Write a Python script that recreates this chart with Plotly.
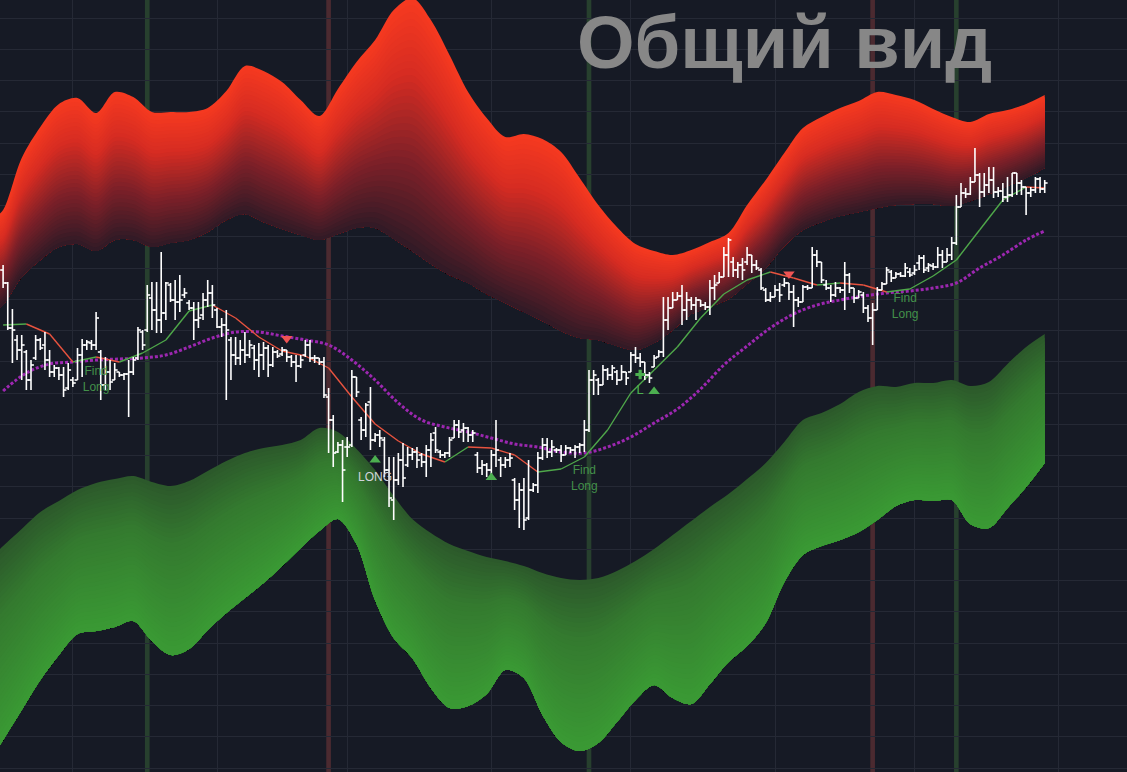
import numpy as np
import pandas as pd
import plotly.graph_objects as go

START = pd.Timestamp("2022-12-17")

bar_open = [
    73.0, 71.7, 67.2, 66.0, 65.0, 64.8, 62.0, 64.2, 66.0, 65.5,
    64.0, 62.8, 63.2, 62.5, 61.2, 62.0, 62.0, 64.5, 65.5, 65.7,
    65.5, 64.8, 61.5, 62.8, 62.0, 62.8, 62.5, 62.6, 62.8, 64.2,
    66.8, 67.0, 70.2, 69.0, 68.0, 68.7, 71.5, 70.0, 69.8, 70.5,
    69.7, 69.2, 68.0, 68.5, 70.0, 70.7, 69.0, 67.3, 67.5, 66.0,
    64.5, 64.2, 65.0, 64.5, 65.2, 64.0, 64.5, 65.2, 63.5, 64.8,
    64.6, 65.0, 64.3, 63.8, 63.4, 64.5, 65.5, 64.2, 64.2, 63.8,
    60.3, 58.0, 54.8, 55.5, 55.3, 55.5, 62.3, 58.0, 57.0, 59.8,
    56.0, 56.5, 56.0, 53.0, 50.0, 52.0, 54.0, 53.5, 54.5, 54.8,
    54.5, 53.8, 55.0, 56.7, 54.8, 54.5, 54.7, 56.2, 57.5, 57.0,
    57.2, 56.5, 54.5, 53.2, 53.5, 53.0, 54.5, 54.0, 53.5, 54.0,
    52.0, 50.0, 51.0, 48.2, 51.0, 51.5, 54.2, 55.5, 54.8, 55.0,
    55.0, 54.5, 55.2, 55.0, 55.3, 55.5, 57.0, 62.0, 62.0, 61.5,
    63.0, 62.5, 62.8, 62.0, 62.8, 62.8, 64.5, 64.2, 63.8, 62.5,
    63.3, 64.3, 64.8, 68.0, 69.2, 70.0, 70.4, 69.0, 70.0, 69.5,
    70.0, 69.5, 69.3, 71.2, 71.7, 72.3, 74.5, 73.8, 73.0, 73.5,
    73.8, 74.5, 73.5, 73.0, 71.0, 70.0, 70.3, 71.0, 71.5, 71.7,
    70.8, 70.0, 69.8, 71.3, 71.2, 74.5, 73.8, 71.5, 71.2, 70.5,
    71.2, 71.0, 72.5, 71.2, 70.2, 70.5, 69.2, 68.2, 69.0, 71.0,
    71.6, 72.8, 72.2, 72.6, 72.4, 72.8, 72.7, 73.7, 74.2, 73.2,
    73.4, 73.3, 74.5, 73.8, 74.5, 75.7, 79.3, 80.7, 80.6, 81.8,
    82.5, 80.8, 81.5, 82.0, 80.8, 80.9, 80.3, 80.5, 82.7, 81.7,
    81.3, 80.7, 81.0, 82.1, 81.1,
]
bar_high = [
    73.5, 71.8, 69.1, 66.5, 66.5, 65.0, 64.0, 66.5, 66.2, 66.8,
    65.0, 63.5, 63.3, 63.3, 63.7, 62.3, 65.2, 66.1, 66.0, 66.0,
    68.8, 65.0, 64.3, 64.0, 63.7, 62.8, 62.7, 64.0, 64.3, 67.3,
    67.0, 71.5, 71.8, 71.8, 74.8, 71.8, 71.7, 72.0, 72.5, 71.2,
    70.0, 69.8, 69.8, 70.7, 72.0, 71.5, 69.2, 68.2, 69.0, 66.3,
    66.3, 66.0, 66.8, 66.0, 65.5, 65.7, 65.8, 65.5, 65.3, 65.0,
    65.3, 65.0, 64.5, 64.5, 64.5, 66.0, 66.0, 64.5, 64.2, 64.3,
    61.2, 58.5, 55.8, 56.0, 56.3, 63.0, 62.3, 58.3, 59.7, 61.3,
    56.7, 57.0, 56.3, 54.3, 54.3, 54.7, 55.7, 55.3, 55.2, 55.3,
    54.7, 55.5, 56.7, 57.3, 55.0, 54.8, 56.3, 58.0, 58.0, 57.7,
    57.3, 57.0, 54.8, 54.0, 53.7, 55.0, 58.0, 54.3, 54.3, 54.7,
    52.2, 51.7, 52.2, 54.0, 51.7, 54.8, 56.2, 56.2, 56.0, 55.2,
    55.5, 55.5, 55.3, 55.5, 55.7, 58.0, 63.0, 63.0, 62.2, 63.5,
    63.2, 63.5, 63.0, 63.5, 62.8, 64.8, 65.3, 64.7, 63.8, 62.8,
    64.5, 65.0, 70.3, 70.3, 70.8, 70.8, 71.5, 70.8, 70.3, 70.3,
    70.0, 69.8, 72.0, 72.5, 72.8, 75.3, 76.2, 74.3, 73.8, 74.2,
    75.3, 74.5, 74.0, 73.2, 71.2, 70.8, 71.5, 71.7, 72.2, 71.7,
    71.5, 70.3, 71.5, 71.5, 75.3, 75.0, 73.8, 72.0, 71.5, 71.8,
    71.3, 73.8, 72.7, 71.2, 71.0, 70.8, 69.5, 69.7, 71.3, 71.8,
    73.3, 73.0, 72.8, 72.8, 73.7, 73.2, 73.5, 74.5, 74.5, 73.7,
    73.7, 75.3, 75.0, 75.2, 76.3, 80.5, 81.7, 81.2, 82.3, 85.2,
    82.7, 82.7, 83.3, 83.3, 81.3, 81.7, 82.3, 82.7, 82.7, 82.0,
    81.3, 81.3, 82.3, 82.3, 82.0,
]
bar_low = [
    71.2, 67.0, 63.7, 64.0, 62.0, 61.0, 61.0, 64.0, 65.0, 63.0,
    62.3, 62.3, 62.0, 60.3, 61.0, 61.3, 62.0, 62.3, 65.0, 65.0,
    65.0, 60.0, 61.0, 61.0, 62.0, 62.3, 62.0, 58.3, 62.5, 64.0,
    65.0, 66.8, 67.0, 66.7, 66.7, 68.0, 69.8, 68.0, 68.8, 70.2,
    69.0, 66.0, 67.2, 68.0, 69.3, 68.2, 67.2, 66.3, 60.0, 62.0,
    63.5, 63.5, 63.7, 64.2, 63.0, 62.3, 63.0, 62.3, 63.3, 64.2,
    64.4, 63.8, 63.3, 61.8, 63.2, 64.3, 63.8, 63.7, 63.5, 60.2,
    54.7, 53.3, 54.7, 49.8, 54.3, 55.3, 60.3, 56.0, 56.3, 55.0,
    55.8, 55.3, 52.3, 49.3, 48.0, 51.5, 51.3, 53.3, 54.0, 53.2,
    53.3, 52.3, 53.3, 54.7, 54.2, 54.2, 54.3, 56.2, 56.2, 55.8,
    55.8, 55.8, 52.7, 52.5, 52.3, 52.3, 53.3, 52.3, 53.2, 53.3,
    49.0, 47.2, 47.0, 48.0, 50.8, 50.7, 54.0, 54.2, 54.3, 54.7,
    53.8, 54.5, 54.7, 54.2, 54.7, 54.8, 56.8, 60.5, 60.5, 61.5,
    62.0, 62.0, 61.5, 62.0, 61.5, 62.8, 63.7, 63.3, 62.0, 61.7,
    63.3, 64.3, 64.3, 67.0, 69.2, 70.0, 67.5, 68.0, 69.0, 68.0,
    69.3, 69.0, 68.5, 70.0, 71.7, 72.3, 72.3, 72.3, 72.2, 72.0,
    73.5, 72.7, 73.0, 71.0, 69.8, 69.8, 70.3, 69.8, 71.3, 70.0,
    67.3, 69.3, 69.8, 71.0, 71.2, 73.3, 71.7, 71.0, 69.8, 70.3,
    70.7, 69.0, 70.7, 69.7, 70.2, 68.7, 67.8, 65.5, 69.0, 71.0,
    71.6, 71.8, 72.2, 72.3, 72.3, 72.3, 72.5, 73.0, 72.7, 72.8,
    73.0, 73.2, 73.2, 73.8, 74.0, 75.5, 79.3, 80.2, 80.5, 81.8,
    79.3, 80.3, 80.7, 80.2, 80.3, 79.8, 79.8, 80.3, 80.5, 80.5,
    78.5, 80.3, 80.7, 80.7, 80.7,
]
bar_close = [
    71.7, 67.2, 67.0, 65.0, 65.5, 62.0, 63.5, 66.0, 65.2, 64.0,
    62.8, 63.2, 62.5, 61.0, 63.0, 61.7, 64.5, 65.5, 65.8, 65.5,
    68.2, 61.5, 62.8, 61.8, 63.0, 62.5, 62.6, 62.8, 64.0, 67.0,
    65.5, 70.5, 69.0, 68.0, 68.7, 71.7, 70.0, 69.8, 70.0, 70.7,
    69.2, 68.0, 68.2, 70.0, 70.7, 69.5, 67.3, 67.5, 67.0, 64.5,
    64.2, 65.0, 64.5, 65.5, 64.0, 64.5, 65.2, 63.5, 64.8, 64.4,
    65.0, 64.3, 63.8, 63.4, 64.0, 65.5, 64.2, 64.2, 63.8, 60.5,
    58.0, 54.7, 55.5, 53.0, 55.3, 62.3, 60.8, 57.0, 59.5, 56.0,
    56.5, 56.2, 53.0, 50.2, 52.0, 54.0, 52.2, 54.5, 54.8, 54.0,
    53.8, 55.0, 56.0, 55.0, 54.5, 54.7, 56.0, 57.5, 56.8, 57.2,
    56.5, 56.7, 53.2, 53.5, 53.0, 54.5, 55.0, 53.5, 54.0, 54.2,
    50.0, 51.0, 48.0, 51.0, 51.5, 54.2, 55.5, 54.8, 55.3, 55.0,
    54.5, 55.2, 55.0, 55.3, 55.5, 57.0, 62.0, 62.5, 61.5, 63.0,
    62.5, 63.2, 62.0, 62.8, 62.2, 64.5, 64.2, 63.8, 62.5, 62.2,
    64.2, 64.8, 68.0, 69.2, 70.0, 70.4, 69.0, 70.0, 69.5, 70.0,
    69.5, 69.3, 71.2, 71.5, 72.3, 74.5, 76.0, 73.0, 73.5, 73.0,
    74.5, 73.5, 73.2, 71.2, 70.0, 70.3, 71.0, 70.5, 71.7, 70.8,
    70.0, 69.8, 71.3, 71.2, 74.5, 73.8, 72.0, 71.2, 70.5, 71.2,
    71.0, 72.5, 71.2, 70.2, 70.8, 69.2, 68.2, 69.0, 71.0, 71.6,
    73.0, 72.2, 72.6, 72.4, 73.2, 72.5, 73.0, 74.2, 73.0, 73.5,
    73.3, 74.5, 73.8, 74.5, 75.7, 79.3, 80.7, 80.6, 81.8, 82.5,
    80.8, 81.5, 82.0, 80.8, 80.9, 80.3, 80.5, 82.7, 81.7, 81.3,
    80.7, 81.0, 82.1, 81.1, 81.7,
]

# indicator lines, read every 5 bars (last at bar 224)
ma_fast = [67.5, 67.6, 66.6, 63.8, 64.3, 63.8, 64.7, 66.0, 68.9, 69.5,
           68.2, 66.3, 64.9, 64.4, 63.2, 60.3, 57.6, 55.9, 54.6, 53.8,
           55.3, 55.2, 54.5, 52.8, 53.1, 54.3, 57.0, 60.7, 63.0, 65.3,
           68.2, 70.6, 72.0, 72.8, 72.2, 71.5, 71.7, 71.5, 70.8, 71.1,
           72.4, 74.0, 77.0, 80.0, 81.3, 81.2]
ma_slow = [60.9, 62.7, 63.6, 63.8, 64.0, 64.1, 64.2, 64.5, 65.3, 66.2,
           66.8, 66.8, 66.4, 66.0, 65.5, 64.0, 62.0, 59.7, 58.0, 57.3,
           56.8, 56.2, 55.6, 55.3, 54.8, 54.7, 55.3, 56.3, 57.7, 59.1,
           61.1, 63.5, 65.4, 67.2, 68.6, 69.5, 70.0, 70.4, 70.7, 70.9,
           71.2, 71.7, 73.2, 74.5, 76.0, 76.9]

# channel bands, read at bar -2 and every 4 bars from 0 to 224
upper_top = [78.2, 79.0, 84.2, 87.3, 89.6, 90.2, 88.7, 90.8, 90.3, 88.8,
             88.8, 88.8, 89.2, 90.9, 93.4, 92.9, 91.8, 90.0, 88.4, 91.1,
             93.8, 96.0, 99.0, 100.2, 98.0, 94.5, 90.8, 88.2, 86.3, 86.6,
             86.1, 84.8, 82.2, 79.5, 77.3, 75.6, 74.9, 74.5, 75.0, 75.8,
             76.7, 79.5, 82.0, 84.7, 87.2, 88.3, 89.2, 89.9, 90.8, 90.5,
             90.0, 89.1, 88.3, 87.8, 88.6, 89.0, 89.6, 90.5]
upper_bot = [68.8, 69.5, 72.3, 74.0, 75.3, 75.6, 74.9, 76.0, 76.0, 75.3,
             75.7, 76.0, 76.8, 78.0, 78.6, 77.8, 77.1, 76.5, 76.0, 76.6,
             77.2, 77.2, 76.1, 74.9, 73.6, 72.5, 71.7, 70.6, 69.7, 68.8,
             67.9, 66.9, 66.2, 66.0, 65.4, 65.0, 65.7, 67.0, 68.6, 69.3,
             70.1, 71.6, 73.2, 75.4, 77.0, 77.8, 78.4, 78.8, 79.2, 79.5,
             79.6, 79.6, 79.4, 79.9, 80.6, 81.4, 82.2, 83.2]
lower_top = [44.5, 45.4, 47.1, 48.8, 49.9, 51.0, 51.7, 52.1, 52.4, 51.8,
             51.4, 51.9, 52.9, 53.9, 54.7, 55.2, 55.5, 56.0, 57.2, 56.8,
             55.1, 53.0, 50.4, 48.1, 46.7, 45.6, 44.9, 44.3, 43.9, 43.4,
             42.7, 42.2, 42.0, 42.2, 42.9, 43.9, 45.1, 46.5, 47.9, 49.3,
             50.6, 52.1, 53.7, 55.8, 58.0, 58.7, 59.6, 60.8, 61.4, 61.3,
             61.7, 61.7, 62.0, 61.4, 61.8, 63.6, 65.3, 66.6]
lower_bot = [24.5, 26.0, 29.0, 32.0, 34.5, 36.6, 36.9, 37.3, 37.9, 35.9,
             34.5, 35.1, 37.0, 38.7, 40.2, 41.7, 43.4, 45.2, 46.9, 48.1,
             45.6, 40.0, 36.2, 34.2, 31.2, 29.2, 29.4, 30.6, 33.0, 32.2,
             28.5, 25.8, 24.9, 25.7, 27.8, 30.0, 31.5, 30.2, 29.6, 31.6,
             33.8, 35.4, 37.7, 41.8, 44.5, 45.4, 46.0, 46.8, 48.0, 49.4,
             50.0, 49.9, 50.0, 47.6, 47.2, 49.2, 51.3, 53.7]

signal_bars = [31, 70, 126, 187, 205]
signal_kinds = ["long", "short", "long", "short", "long"]

down_idx = [61, 169]
down_y = [66.15, 72.6]
up_idx = [80, 105, 140]
up_y = [54.0, 52.25, 60.85]
find_idx = [20, 125, 194]
find_y = [62.0, 52.1, 69.3]
entry_idx = [80]
entry_y = [52.2]
l_idx = [137]
l_y = [60.9]
plus_y = [62.55]

n = len(bar_close)
assert len(bar_open) == n and len(bar_high) == n and len(bar_low) == n
ma_idx = list(range(0, 221, 5)) + [224]
assert len(ma_fast) == len(ma_idx) and len(ma_slow) == len(ma_idx)
band_idx = [-2] + list(range(0, 225, 4))
for arr in (upper_top, upper_bot, lower_top, lower_bot):
    assert len(arr) == len(band_idx), len(arr)


def day(i):
    return START + pd.Timedelta(days=i)


dates = [day(i) for i in range(n)]
ma_dates = [day(i) for i in ma_idx]
band_dates = [day(i) for i in band_idx]

BG = "#161a25"
GRID = "#252935"

fig = go.Figure()


def lerp_color(stops, t):
    for (t0, c0), (t1, c1) in zip(stops[:-1], stops[1:]):
        if t <= t1:
            f = (t - t0) / (t1 - t0)
            return "rgb(%d,%d,%d)" % tuple(round(a + (b - a) * f) for a, b in zip(c0, c1))
    return "rgb(%d,%d,%d)" % stops[-1][1]


RED_STOPS = [(0.0, (246, 58, 32)), (0.3, (214, 44, 34)), (0.65, (126, 32, 40)), (1.0, (48, 26, 38))]
GREEN_STOPS = [(0.0, (44, 88, 43)), (0.35, (52, 122, 47)), (1.0, (58, 154, 52))]

LAYERS = 36
for top, bot, stops in ((upper_top, upper_bot, RED_STOPS), (lower_top, lower_bot, GREEN_STOPS)):
    top_a = np.asarray(top, float)
    bot_a = np.asarray(bot, float)
    for k in range(LAYERS):
        edge = top_a + (bot_a - top_a) * k / LAYERS
        fig.add_trace(go.Scatter(x=band_dates, y=bot_a, mode="lines",
                                 line=dict(width=0, shape="spline", smoothing=0.9),
                                 hoverinfo="skip", showlegend=False))
        fig.add_trace(go.Scatter(x=band_dates, y=edge, mode="lines",
                                 line=dict(width=0, shape="spline", smoothing=0.9),
                                 fill="tonexty", fillcolor=lerp_color(stops, (k + 0.5) / LAYERS),
                                 hoverinfo="skip", showlegend=False))

# slow line (purple dots)
fig.add_trace(go.Scatter(x=ma_dates, y=ma_slow, mode="lines",
                         line=dict(color="#9c27b0", width=3, dash="3px,2px", shape="spline"),
                         hoverinfo="skip", showlegend=False))

# fast line, green when rising, red when falling
up_x, up_yv, dn_x, dn_yv = [], [], [], []
for j in range(len(ma_idx) - 1):
    sx = [ma_dates[j], ma_dates[j + 1], None]
    sy = [ma_fast[j], ma_fast[j + 1], None]
    if ma_fast[j + 1] >= ma_fast[j]:
        up_x += sx
        up_yv += sy
    else:
        dn_x += sx
        dn_yv += sy
fig.add_trace(go.Scatter(x=up_x, y=up_yv, mode="lines", line=dict(color="#4fa84a", width=1.4),
                         connectgaps=False, hoverinfo="skip", showlegend=False))
fig.add_trace(go.Scatter(x=dn_x, y=dn_yv, mode="lines", line=dict(color="#e8533f", width=1.4),
                         connectgaps=False, hoverinfo="skip", showlegend=False))

# OHLC bars, drawn as line paths so they sit above the filled channels
tick = pd.Timedelta(hours=15)
ox, oy = [], []
for d, o, h, l, c in zip(dates, bar_open, bar_high, bar_low, bar_close):
    ox += [d, d, None, d - tick, d, None, d, d + tick, None]
    oy += [l, h, None, o, o, None, c, c, None]
fig.add_trace(go.Scatter(x=ox, y=oy, mode="lines", line=dict(color="#ffffff", width=1.6),
                         connectgaps=False, hoverinfo="skip", showlegend=False))

# signal markers
fig.add_trace(go.Scatter(x=[day(i) for i in down_idx], y=down_y, mode="markers",
                         marker=dict(symbol="triangle-down", size=10, color="#f05454", line=dict(width=0)),
                         hoverinfo="skip", showlegend=False))
fig.add_trace(go.Scatter(x=[day(i) for i in up_idx], y=up_y, mode="markers",
                         marker=dict(symbol="triangle-up", size=10, color="#4caf50", line=dict(width=0)),
                         hoverinfo="skip", showlegend=False))
fig.add_trace(go.Scatter(x=[day(i) for i in l_idx], y=plus_y, mode="markers",
                         marker=dict(symbol="cross", size=8, color="#4caf50", line=dict(width=0)),
                         hoverinfo="skip", showlegend=False))

LABEL_FONT = "Liberation Sans, Arial, sans-serif"
fig.add_trace(go.Scatter(x=[day(i) for i in find_idx], y=find_y, mode="text",
                         text=["Find<br>Long"] * len(find_idx),
                         textposition="middle center",
                         textfont=dict(family=LABEL_FONT, size=12, color="#43904a"),
                         hoverinfo="skip", showlegend=False))
fig.add_trace(go.Scatter(x=[day(i) for i in entry_idx], y=entry_y, mode="text", text=["LONG"],
                         textposition="middle center",
                         textfont=dict(family=LABEL_FONT, size=12, color="#d1d4dc"),
                         hoverinfo="skip", showlegend=False))
fig.add_trace(go.Scatter(x=[day(i) for i in l_idx], y=l_y, mode="text", text=["L"],
                         textposition="middle center",
                         textfont=dict(family=LABEL_FONT, size=13, color="#4caf50"),
                         hoverinfo="skip", showlegend=False))

# background highlight columns
for idx, kind in zip(signal_bars, signal_kinds):
    fig.add_shape(type="rect", xref="x", yref="paper", x0=day(idx - 0.5), x1=day(idx + 0.5), y0=0, y1=1,
                  fillcolor="#27402e" if kind == "long" else "#4b2a30", line=dict(width=0), layer="below")

fig.add_annotation(text="<b>Общий вид</b>", xref="paper", yref="paper", x=784 / 1127, y=1.0,
                   xanchor="center", yanchor="top", showarrow=False, borderpad=0,
                   font=dict(family="Liberation Sans, Arial, sans-serif", size=74, color="#878787"))

fig.update_layout(
    width=1127, height=772, margin=dict(l=0, r=0, t=0, b=0),
    paper_bgcolor=BG, plot_bgcolor=BG, showlegend=False, hovermode=False,
    xaxis=dict(type="date", range=[day(-0.667), day(241.70)], showgrid=True, gridcolor=GRID, gridwidth=1,
               dtick="M1", tick0="2023-01-01", showticklabels=False, zeroline=False, showline=False,
               ticks="", fixedrange=True),
    yaxis=dict(range=[22.8, 100], showgrid=True, gridcolor=GRID, gridwidth=1, dtick=3.126, tick0=98.2,
               showticklabels=False, zeroline=False, showline=False, ticks="", fixedrange=True),
)

fig.write_html("out.html", include_plotlyjs=True, full_html=True,
               config={"displayModeBar": False},
               post_script="document.body.style.margin='0';document.body.style.overflow='hidden';")
